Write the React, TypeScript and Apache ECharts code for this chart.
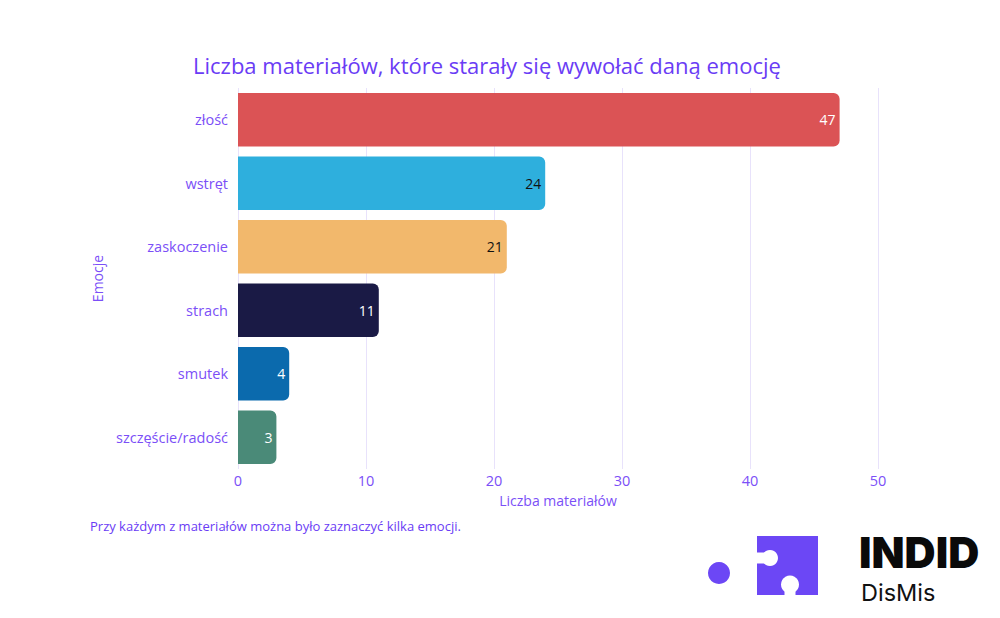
import React, { useEffect, useRef } from "react";
import * as echarts from "echarts";

const categories = ["złość", "wstręt", "zaskoczenie", "strach", "smutek", "szczęście/radość"];
const values = [47, 24, 21, 11, 4, 3];
const barColors = ["#db5355", "#2eafdd", "#f2b86c", "#1a1a45", "#0b6aad", "#4a8a78"];
const labelColors = ["#ffffff", "#111111", "#111111", "#ffffff", "#ffffff", "#ffffff"];

const titleText = "Liczba materiałów, które starały się wywołać daną emocję";
const xAxisName = "Liczba materiałów";
const yAxisName = "Emocje";
const footnote = "Przy każdym z materiałów można było zaznaczyć kilka emocji.";

const PURPLE = "#6a3cf5";
const LABEL = "#7b4ff7";
const LOGO = "#6c47f5";
const FONT = "'Open Sans', 'Noto Sans', sans-serif";

export default function App() {
  const ref = useRef<HTMLDivElement>(null);
  useEffect(() => {
    if (!ref.current) return;
    const chart = echarts.init(ref.current, undefined, { renderer: "svg" });
    chart.setOption({
      animation: false,
      backgroundColor: "#ffffff",
      textStyle: { fontFamily: FONT },
      title: {
        text: titleText,
        left: 188,
        top: 49,
        textStyle: { color: PURPLE, fontSize: 22, fontWeight: "normal", fontFamily: FONT },
      },
      grid: { left: 238, right: 122, top: 88, bottom: 149 },
      xAxis: {
        type: "value",
        min: 0,
        max: 50,
        interval: 10,
        name: xAxisName,
        nameLocation: "middle",
        nameGap: 24,
        nameTextStyle: { color: LABEL, fontSize: 14, fontFamily: FONT },
        axisLine: { show: false },
        axisTick: { show: false },
        axisLabel: { color: LABEL, fontSize: 14.5, margin: 4, fontFamily: FONT },
        splitLine: { show: true, lineStyle: { color: "#e8e2fb", width: 1 } },
      },
      yAxis: {
        type: "category",
        data: categories,
        inverse: true,
        name: yAxisName,
        nameLocation: "middle",
        nameGap: 134,
        nameRotate: 90,
        nameTextStyle: { color: LABEL, fontSize: 14, fontFamily: FONT },
        axisLine: { show: false },
        axisTick: { show: false },
        axisLabel: { color: LABEL, fontSize: 14.5, margin: 10, fontFamily: FONT },
        splitLine: { show: false },
      },
      series: [
        {
          type: "bar",
          barCategoryGap: "16%",
          data: values.map((v, i) => ({
            value: v,
            itemStyle: { color: barColors[i], borderRadius: [0, 6, 6, 0] },
            label: { color: labelColors[i] },
          })),
          label: {
            show: true,
            position: "insideRight",
            distance: 4,
            fontSize: 14,
            fontFamily: FONT,
          },
        },
      ],
      graphic: [
        {
          type: "text",
          left: 90,
          top: 519,
          style: { text: footnote, fill: PURPLE, fontSize: 13, fontFamily: FONT },
        },
        { type: "circle", shape: { cx: 719, cy: 573, r: 11 }, style: { fill: LOGO } },
        { type: "rect", shape: { x: 757, y: 536, width: 61, height: 59 }, style: { fill: LOGO } },
        { type: "circle", shape: { cx: 770, cy: 558, r: 8 }, style: { fill: "#ffffff" } },
        { type: "rect", shape: { x: 756, y: 552.5, width: 10, height: 11 }, style: { fill: "#ffffff" } },
        { type: "circle", shape: { cx: 790, cy: 584.5, r: 9 }, style: { fill: "#ffffff" } },
        { type: "rect", shape: { x: 784.5, y: 588, width: 11, height: 8 }, style: { fill: "#ffffff" } },
        {
          type: "text",
          left: 859,
          top: 530,
          style: { text: "INDID", fill: "#0a0a0a", fontSize: 43, fontWeight: 900, fontFamily: "Inter, sans-serif" },
        },
        {
          type: "text",
          left: 861,
          top: 580,
          style: { text: "DisMis", fill: "#111111", fontSize: 23.5, fontFamily: "Inter, sans-serif" },
        },
      ],
    });
    return () => chart.dispose();
  }, []);
  return <div ref={ref} style={{ width: 1000, height: 618, margin: -8 }} />;
}
